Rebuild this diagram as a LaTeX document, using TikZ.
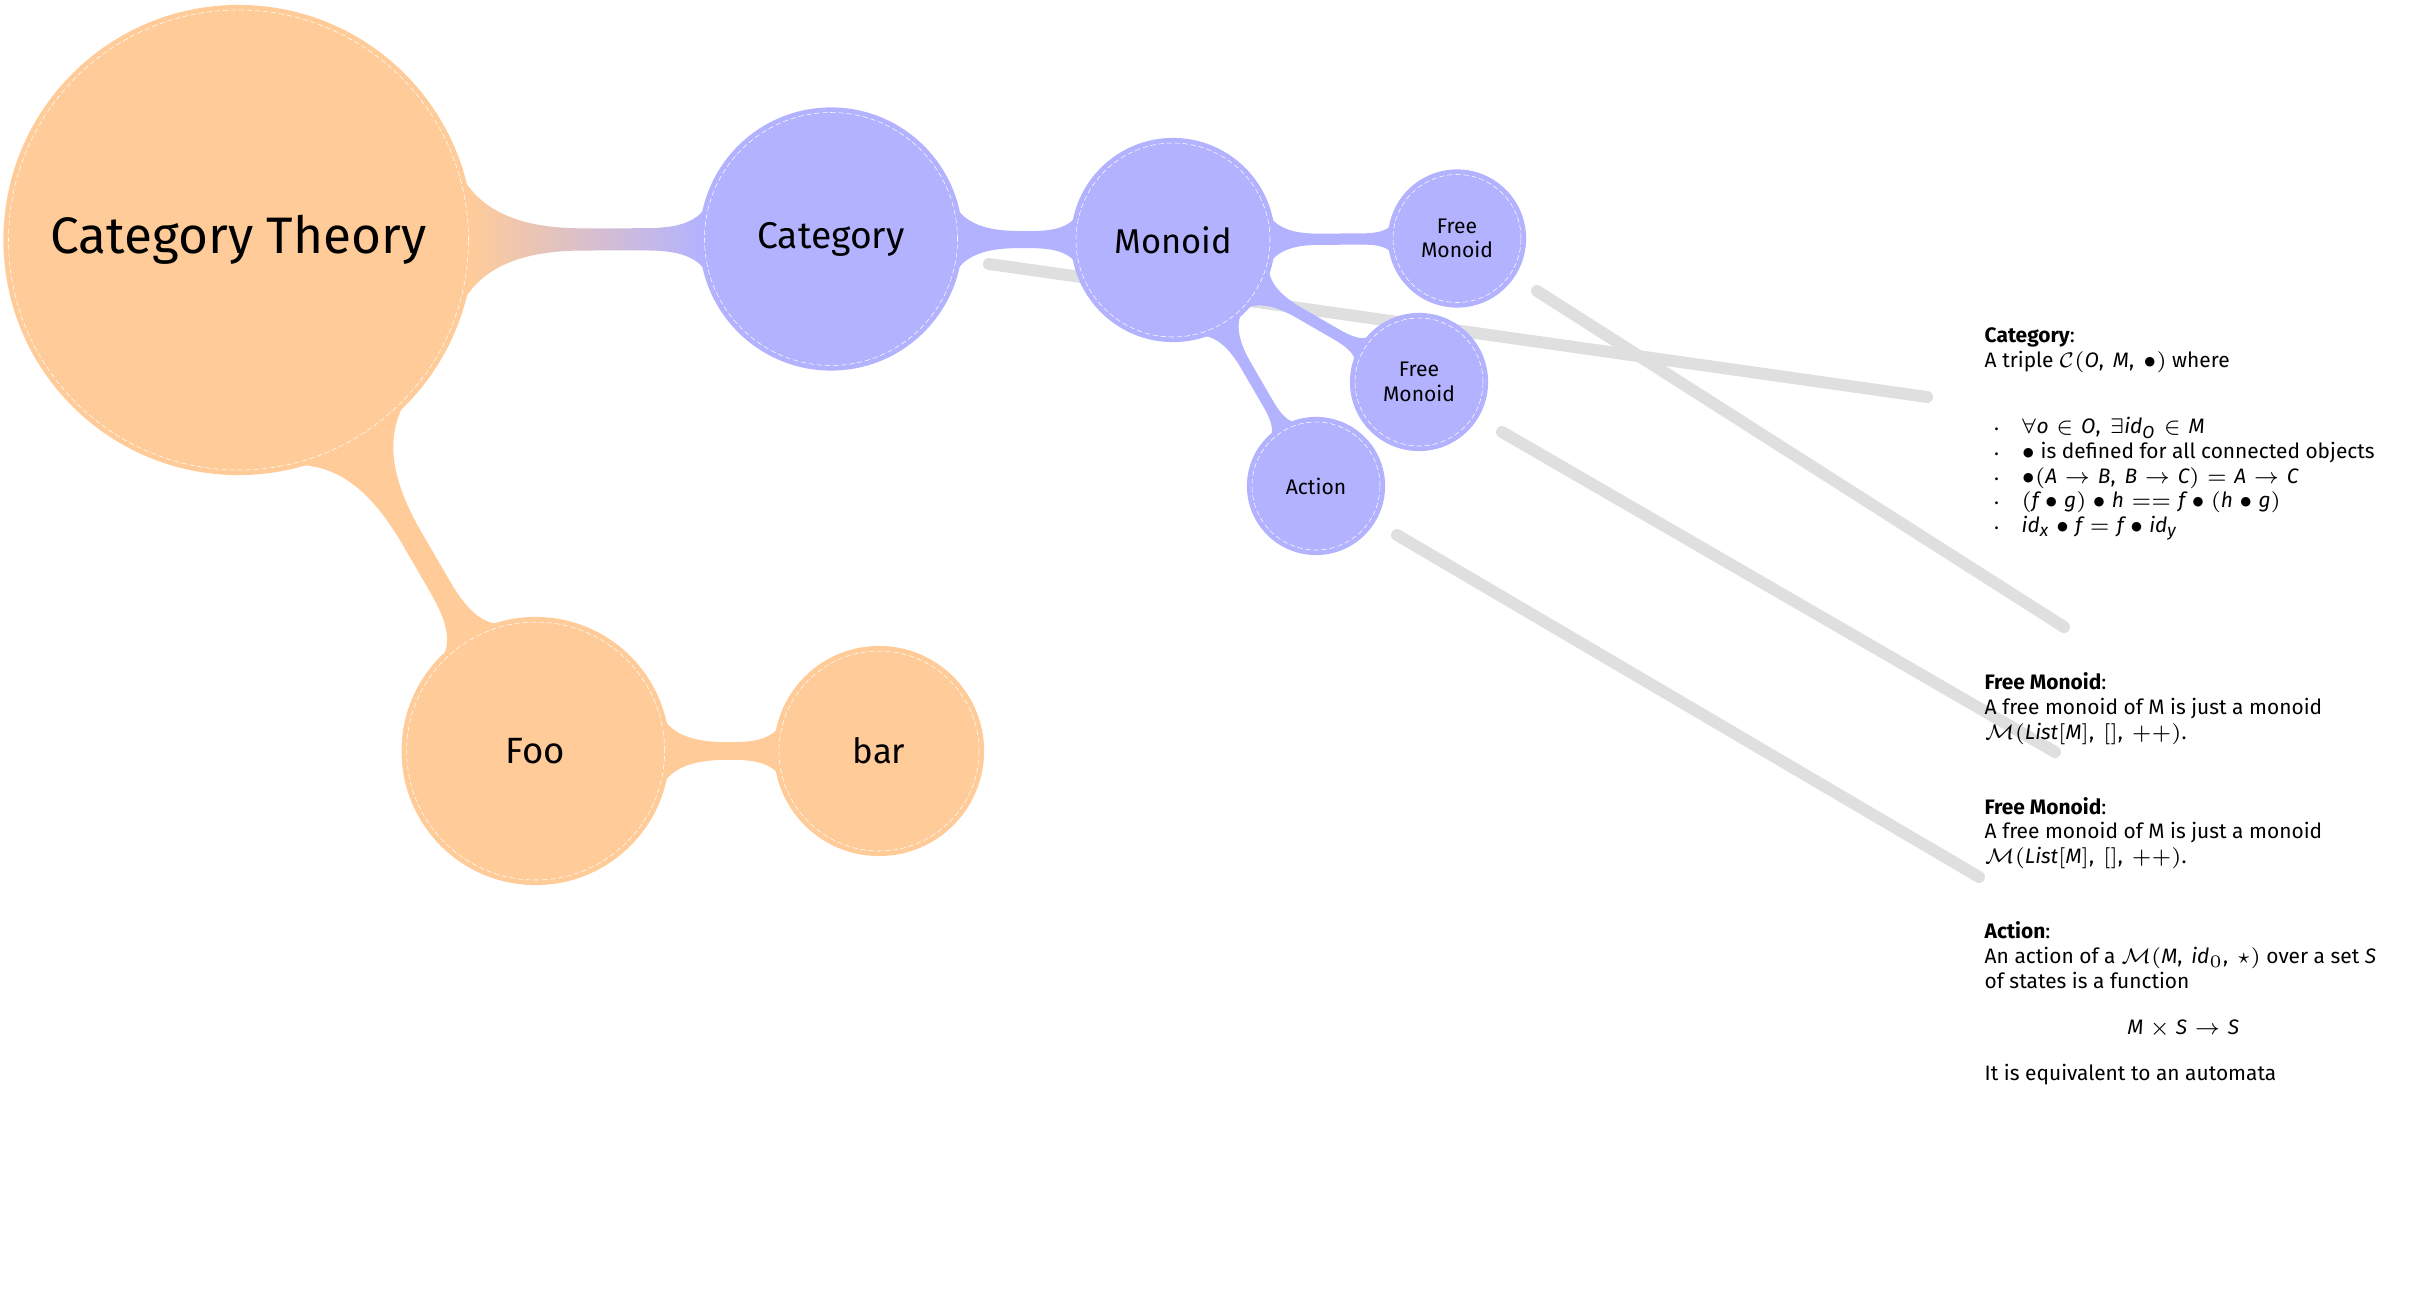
\documentclass[tikz,border=0pt]{standalone}
\usepackage{fontspec}
\setmainfont{Fira Sans}
\usepackage[italic]{mathastext}
\usetikzlibrary{mindmap,backgrounds}
\tikzset{warm/.style={circle, fill=orange!40, draw=white, dash pattern=on 1.5pt off .8pt, line width=.15pt, preaction={draw=orange!40, solid, line width=2.9pt}, align=center, inner sep=0pt}, cool/.style={circle, fill=blue!30, draw=white, dash pattern=on 1.5pt off .8pt, line width=.15pt, preaction={draw=blue!30, solid, line width=2.9pt}, align=center, inner sep=0pt}, note/.style={draw=gray!25, line width=3.4pt, line cap=round}, notetext/.style={anchor=north west, inner sep=0pt, align=left, font=\fontsize{5.95}{7.05}\selectfont}, warmbar/.style={circle connection bar switch color=from (orange!40) to (orange!40)}, coolbar/.style={circle connection bar switch color=from (blue!30) to (blue!30)}}
\newcommand\notebullet{\makebox[.37cm][l]{\hspace{.1cm}{\fontsize{3.5}{4}\selectfont\textbullet}}}

\begin{document}
\begin{tikzpicture}
\useasboundingbox (0,0) rectangle (24.13,-13.13);
\node[warm, minimum size=4.6cm, font=\fontsize{14.6}{17}\selectfont] (ct) at (2.385,-2.40) {Category Theory};
\node[cool, minimum size=2.53cm, font=\fontsize{10.6}{12}\selectfont] (cat) at (8.31,-2.39) {Category};
\node[cool, minimum size=1.94cm, font=\fontsize{9.8}{11}\selectfont] (mon) at (11.73,-2.40) {Monoid};
\node[cool, minimum size=1.28cm, font=\fontsize{6}{7}\selectfont] (freeone) at (14.57,-2.385) {Free\\Monoid};
\node[cool, minimum size=1.28cm, font=\fontsize{6}{7}\selectfont] (freetwo) at (14.19,-3.82) {Free\\Monoid};
\node[cool, minimum size=1.28cm, font=\fontsize{6}{7}\selectfont] (act) at (13.16,-4.86) {Action};
\node[warm, minimum size=2.58cm, font=\fontsize{10.4}{12}\selectfont] (foo) at (5.356,-7.51) {Foo};
\node[warm, minimum size=2.0cm, font=\fontsize{9.9}{11}\selectfont] (bar) at (8.79,-7.51) {bar};
% notes
\node[notetext] (catnote) at (19.84,-3.27) {\textbf{Category}:\\
A triple $\mathcal{C}(O,\, M,\, \bullet)$ where\\[11.8pt]
\notebullet$\forall o \in O,\, \exists id_O \in M$\\
\notebullet$\bullet$ is defined for all connected objects\\
\notebullet$\bullet(A \to B,\, B \to C) = A \to C$\\
\notebullet$(f \bullet g) \bullet h == f \bullet (h \bullet g)$\\
\notebullet$id_x \bullet f = f \bullet id_y$};
\node[notetext] (freeonenote) at (19.84,-6.72) {\textbf{Free Monoid}:\\
A free monoid of M is just a monoid\\
$\mathcal{M}(\mathit{List}[M],\, [],\, ++)$.};
\node[notetext] (freetwonote) at (19.84,-7.965) {\textbf{Free Monoid}:\\
A free monoid of M is just a monoid\\
$\mathcal{M}(\mathit{List}[M],\, [],\, ++)$.};
\node[notetext] (actnote) at (19.84,-9.21) {\textbf{Action}:\\
An action of a $\mathcal{M}(M,\, id_0,\, \star)$ over a set $S$\\
of states is a function\\[6.1pt]
\makebox[3.97cm]{$M \times S \to S$}\\[6.1pt]
It is equivalent to an automata};
\coordinate (catfrom) at (9.89,-2.64); \coordinate (catto) at (19.27,-3.97);
\coordinate (freeonefrom) at (15.37,-2.91); \coordinate (freeoneto) at (20.64,-6.27);
\coordinate (freetwofrom) at (15.02,-4.32); \coordinate (freetwoto) at (20.55,-7.52);
\coordinate (actfrom) at (13.97,-5.35); \coordinate (actto) at (19.79,-8.77);
\begin{pgfonlayer}{background}
\draw[note] (catfrom) -- (catto);
\draw[note] (freeonefrom) -- (freeoneto);
\draw[note] (freetwofrom) -- (freetwoto);
\draw[note] (actfrom) -- (actto);
\path (ct) to[circle connection bar switch color=from (orange!40) to (blue!30)] (cat);
\path (cat) to[coolbar] (mon);
\path (mon) to[coolbar] (freeone);
\path (mon) to[coolbar] (freetwo);
\path (mon) to[coolbar] (act);
\path (ct) to[warmbar] (foo);
\path (foo) to[warmbar] (bar);
\end{pgfonlayer}
\end{tikzpicture}
\end{document}
